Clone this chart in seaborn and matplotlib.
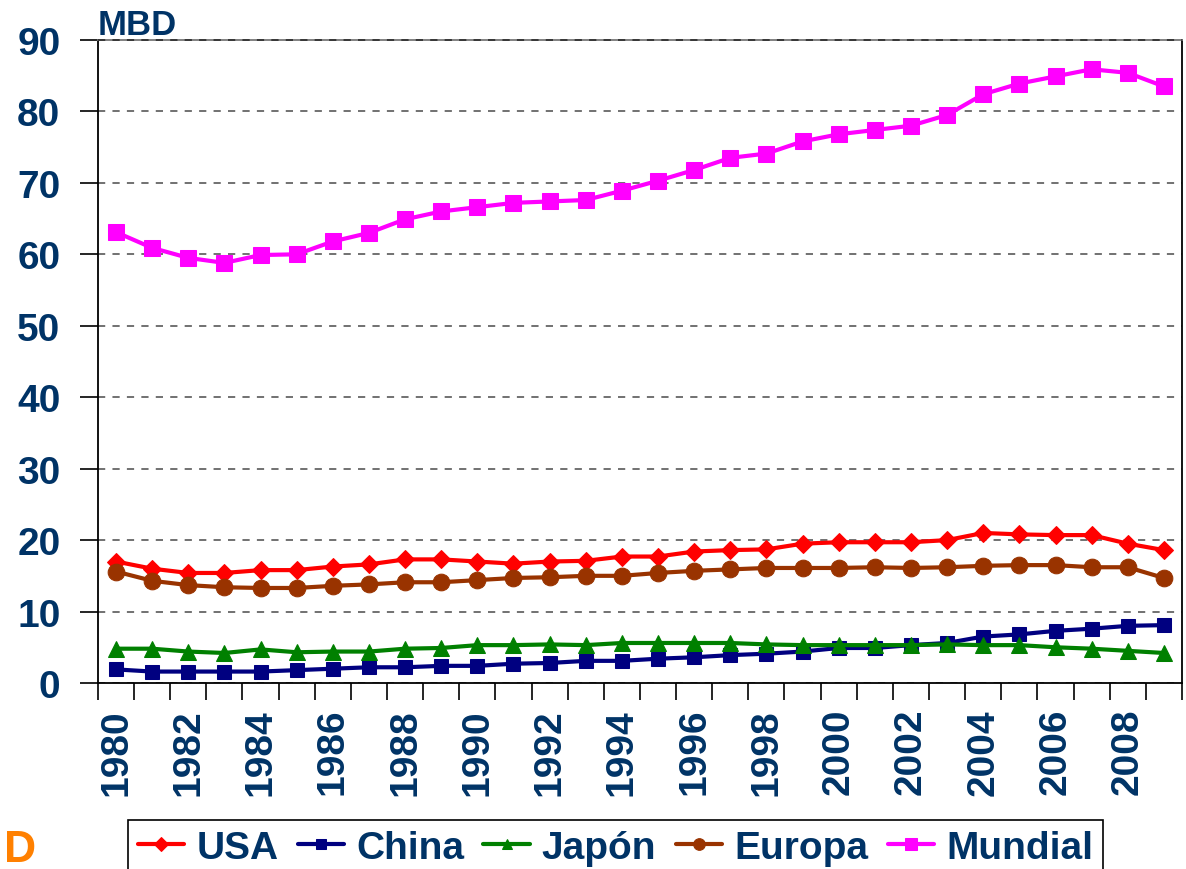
import matplotlib
matplotlib.use('Agg')
import matplotlib.pyplot as plt
import seaborn as sns

# Datos (MBD = millones de barriles diarios)
years = list(range(1980, 2010))
usa = [17.0, 16.0, 15.4, 15.4, 15.8, 15.8, 16.3, 16.6, 17.3, 17.3, 17.0, 16.7, 17.0, 17.1, 17.7,
       17.7, 18.4, 18.6, 18.7, 19.5, 19.7, 19.7, 19.7, 20.0, 21.0, 20.8, 20.7, 20.7, 19.5, 18.6]
china = [1.9, 1.6, 1.6, 1.6, 1.6, 1.8, 2.0, 2.2, 2.2, 2.4, 2.4, 2.7, 2.8, 3.1, 3.1,
         3.4, 3.6, 3.9, 4.1, 4.4, 4.9, 4.9, 5.3, 5.6, 6.5, 6.8, 7.3, 7.6, 8.0, 8.1]
japon = [4.8, 4.8, 4.4, 4.2, 4.7, 4.3, 4.4, 4.4, 4.8, 4.9, 5.3, 5.3, 5.4, 5.3, 5.6,
         5.6, 5.6, 5.6, 5.4, 5.3, 5.3, 5.3, 5.3, 5.4, 5.3, 5.3, 5.0, 4.8, 4.5, 4.2]
europa = [15.6, 14.3, 13.7, 13.4, 13.3, 13.3, 13.6, 13.8, 14.1, 14.1, 14.4, 14.7, 14.8, 15.0, 15.0,
          15.4, 15.7, 15.9, 16.1, 16.1, 16.1, 16.2, 16.1, 16.2, 16.4, 16.5, 16.5, 16.2, 16.2, 14.7]
mundial = [63.1, 60.9, 59.5, 58.8, 59.9, 60.0, 61.8, 63.0, 64.9, 66.0, 66.6, 67.2, 67.4, 67.6,
           68.9, 70.3, 71.8, 73.5, 74.1, 75.8, 76.8, 77.4, 78.0, 79.5, 82.4, 83.9, 84.9, 85.9, 85.4, 83.5]

navy_text = '#003366'

sns.set_style('white')
plt.rcParams['font.family'] = ['Liberation Sans', 'DejaVu Sans']

fig = plt.figure(figsize=(11.86, 8.7), dpi=100)
ax = fig.add_axes([0.0826, 0.2138, 0.914, 0.7391])

pos = list(range(len(years)))

# series: (valores, etiqueta, color, marcador, tamaño)
series = [
    (usa, 'USA', '#FF0000', 'D', 9.5),
    (china, 'China', '#000080', 's', 10),
    (japon, 'Japón', '#008000', '^', 11),
    (europa, 'Europa', '#993300', 'o', 12),
    (mundial, 'Mundial', '#FF00FF', 's', 12),
]
for vals, name, col, mk, ms in series:
    sns.lineplot(x=pos, y=vals, ax=ax, color=col, marker=mk, markersize=ms,
                 markeredgecolor=col, linewidth=3, label=name, sort=False)

ax.set_ylim(0, 90)
ax.set_xlim(-0.5, len(years) - 0.5)
ax.set_yticks(range(0, 91, 10))
ax.yaxis.grid(True, linestyle=(0, (4, 4)), color='#666666', linewidth=1.3)
ax.set_axisbelow(True)

# etiquetas cada dos años, marcas entre categorías
ax.set_xticks(pos[::2])
ax.set_xticklabels([str(y) for y in years[::2]], rotation=90)
ax.set_xticks([p - 0.5 for p in pos] + [len(years) - 0.5], minor=True)
ax.tick_params(axis='x', which='major', length=0, pad=18, labelsize=28, labelcolor=navy_text)
ax.tick_params(axis='x', which='minor', length=12, width=1.2, color='black', direction='out', bottom=True)
ax.tick_params(axis='y', length=13, width=1.2, color='black', direction='out', left=True,
               pad=14, labelsize=28, labelcolor=navy_text)
for lab in ax.get_xticklabels() + ax.get_yticklabels():
    lab.set_fontweight('bold')

for side in ['left', 'bottom', 'right']:
    ax.spines[side].set_color('black')
    ax.spines[side].set_linewidth(1.3)
ax.spines['top'].set_color('#777777')
ax.spines['top'].set_linewidth(1.3)
ax.plot([-0.5, len(years) - 0.5], [90, 90], linestyle=(0, (4, 4)), color='#333333',
        linewidth=1.3, clip_on=False, zorder=3)

ax.set_xlabel('')
ax.set_ylabel('')

handles, labels = ax.get_legend_handles_labels()
ax.get_legend().remove()
leg = fig.legend(handles, labels, loc='upper left', bbox_to_anchor=(0.108, 1 - 821 / 870),
                 borderaxespad=0, ncol=5, frameon=True, fancybox=False, edgecolor='black',
                 framealpha=1, markerscale=0.7, handlelength=1.2, handletextpad=0.3,
                 columnspacing=0.5, borderpad=0.25, prop={'size': 28, 'weight': 'bold'})
leg.get_frame().set_linewidth(1.2)
for t in leg.get_texts():
    t.set_color(navy_text)

fig.text(0.082, 1 - 35 / 870, 'MBD', fontsize=25, fontweight='bold', color=navy_text,
         ha='left', va='baseline')
fig.text(0.003, 1 - 862 / 870, 'D', fontsize=32, fontweight='bold', color='#FF8000',
         ha='left', va='baseline')

fig.savefig('out.png', dpi=100)
